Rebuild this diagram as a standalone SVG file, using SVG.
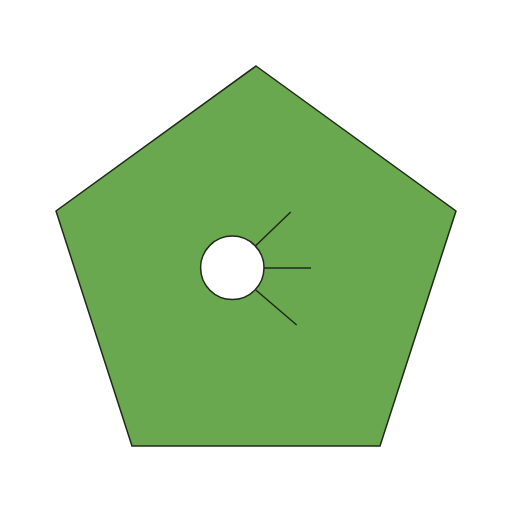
<svg xmlns="http://www.w3.org/2000/svg" width="512" height="512" viewBox="0 0 512 512">
<style>
.shape{fill:#6aa84f;stroke:#1f2a1a;stroke-width:1.5;stroke-linejoin:miter}
.hole{fill:#ffffff;stroke:#1f2a1a;stroke-width:1.5}
.ray{stroke:#1f2a1a;stroke-width:1.5;fill:none}
</style>
<rect width="512" height="512" fill="#ffffff"/>
<g id="pentagon">
<polygon class="shape" points="256,66 456,211 380,446 132,446 56,211"/>
</g>
<g id="hole">
<circle class="hole" cx="232.3" cy="267.8" r="31.7"/>
</g>
<g id="connectors">
<line class="ray" x1="255.6" y1="245.8" x2="290.7" y2="212"/>
<line class="ray" x1="264" y1="268" x2="311" y2="268"/>
<line class="ray" x1="255.8" y1="290" x2="296.7" y2="325"/>
</g>
</svg>
